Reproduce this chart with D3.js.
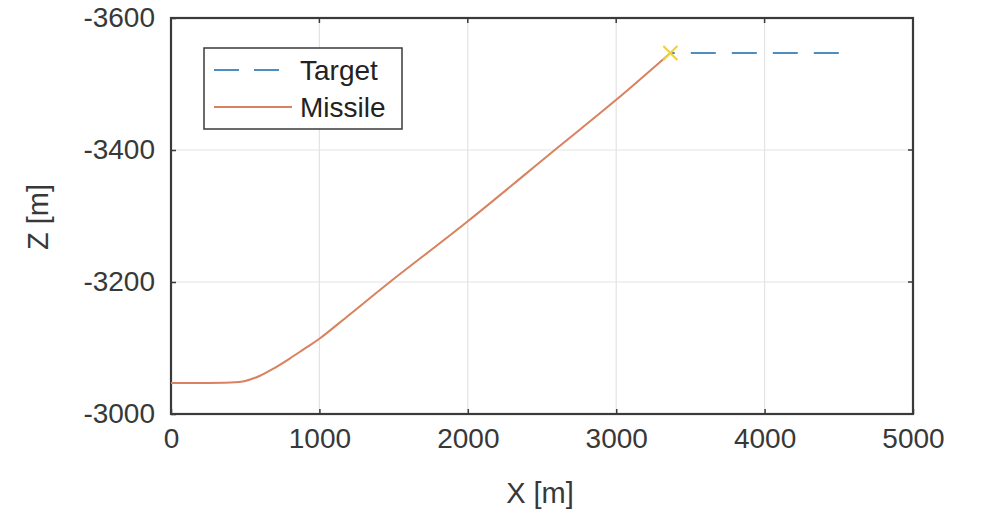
<!DOCTYPE html>
<html>
<head>
<meta charset="utf-8">
<script src="https://cdn.jsdelivr.net/npm/d3@7"></script>
<style>
html,body{margin:0;padding:0;background:#fff;}
svg{display:block;}
text{font-family:"Liberation Sans",Arial,sans-serif;}
</style>
</head>
<body>
<svg id="chart" width="998" height="516"></svg>
<script>
// Data
const missileX = [0, 200, 430, 500, 600, 700, 800, 900, 1000, 1200, 1475, 2000, 2586, 3000, 3365];
const missileZ = [-3047, -3047, -3048, -3050, -3058, -3070, -3084, -3099, -3114, -3150, -3200, -3292, -3400, -3476, -3547];
const targetX = [4500, 3365];
const targetZ = [-3547, -3547];
const interceptX = [3365];
const interceptZ = [-3547];
const xTicks = [0, 1000, 2000, 3000, 4000, 5000];
const zTicks = [-3600, -3400, -3200, -3000];
const seriesNames = ["Target", "Missile"];

const svg = d3.select("#chart");
const L = 171, T = 18, R = 913, B = 414;
const x = d3.scaleLinear().domain([0, 5000]).range([L, R]);
const y = d3.scaleLinear().domain([-3000, -3600]).range([B, T]);

const gridColor = "#e3e3e3";
const axisColor = "#3a3a3a";
const textColor = "#383838";
const missileColor = "#d8825f";
const targetColor = "#4f8cbf";
const markerColor = "#f0d23a";

// grid
svg.append("g").selectAll("line").data(xTicks.slice(1, -1)).join("line")
  .attr("x1", d => x(d)).attr("x2", d => x(d)).attr("y1", T).attr("y2", B)
  .attr("stroke", gridColor).attr("stroke-width", 1.2);
svg.append("g").selectAll("line").data(zTicks.slice(1, -1)).join("line")
  .attr("y1", d => y(d)).attr("y2", d => y(d)).attr("x1", L).attr("x2", R)
  .attr("stroke", gridColor).attr("stroke-width", 1.2);

// axes with d3
const xAxis = d3.axisBottom(x).tickValues(xTicks).tickSize(-5).tickPadding(14).tickFormat(d3.format("d"));
const gx = svg.append("g").attr("transform", `translate(0,${B})`).call(xAxis);
gx.select(".domain").remove();
gx.selectAll(".tick line").attr("stroke", axisColor).attr("stroke-width", 1.5);
gx.selectAll(".tick text").attr("fill", textColor).attr("font-size", 28)
  .attr("font-family", "'Liberation Sans', Arial, sans-serif").attr("dy", "0.71em");

const yAxis = d3.axisLeft(y).tickValues(zTicks).tickSize(-5).tickPadding(16).tickFormat(d => String(d));
const gy = svg.append("g").attr("transform", `translate(${L},0)`).call(yAxis);
gy.select(".domain").remove();
gy.selectAll(".tick line").attr("stroke", axisColor).attr("stroke-width", 1.5);
gy.selectAll(".tick text").attr("fill", textColor).attr("font-size", 28)
  .attr("font-family", "'Liberation Sans', Arial, sans-serif");

// top/right ticks
svg.append("g").selectAll("line").data(xTicks).join("line")
  .attr("x1", d => x(d)).attr("x2", d => x(d)).attr("y1", T).attr("y2", T + 5)
  .attr("stroke", axisColor).attr("stroke-width", 1.5);
svg.append("g").selectAll("line").data(zTicks).join("line")
  .attr("y1", d => y(d)).attr("y2", d => y(d)).attr("x1", R).attr("x2", R - 5)
  .attr("stroke", axisColor).attr("stroke-width", 1.5);

// frame
svg.append("rect").attr("x", L).attr("y", T).attr("width", R - L).attr("height", B - T)
  .attr("fill", "none").attr("stroke", axisColor).attr("stroke-width", 2.2);

// lines
const missile = missileX.map((v, i) => [v, missileZ[i]]);
const target = targetX.map((v, i) => [v, targetZ[i]]);
const line = d3.line().x(d => x(d[0])).y(d => y(d[1])).curve(d3.curveCatmullRom.alpha(0.5));

svg.append("path").datum(target).attr("d", d3.line().x(d => x(d[0])).y(d => y(d[1])))
  .attr("fill", "none").attr("stroke", targetColor).attr("stroke-width", 2.2)
  .attr("stroke-dasharray", "25,16");
svg.append("path").datum(missile).attr("d", line)
  .attr("fill", "none").attr("stroke", missileColor).attr("stroke-width", 2);

// intercept marker
const mk = svg.append("g");
interceptX.forEach((v, i) => {
  const cx = x(v), cy = y(interceptZ[i]), s = 7;
  mk.append("path").attr("d", `M${cx - s},${cy - s}L${cx + s},${cy + s}M${cx - s},${cy + s}L${cx + s},${cy - s}`)
    .attr("stroke", markerColor).attr("stroke-width", 2.2).attr("fill", "none");
});

// axis labels
svg.append("text").attr("x", 540).attr("y", 503).attr("text-anchor", "middle")
  .attr("font-size", 29).attr("fill", textColor).text("X [m]");
svg.append("text").attr("transform", "translate(48,217) rotate(-90)").attr("text-anchor", "middle")
  .attr("font-size", 29).attr("fill", textColor).text("Z [m]");

// legend
const lg = svg.append("g");
lg.append("rect").attr("x", 204).attr("y", 48).attr("width", 198).attr("height", 81)
  .attr("fill", "#fff").attr("stroke", axisColor).attr("stroke-width", 1.5);
const legendColors = [targetColor, missileColor];
const legendDash = ["25,15", null];
const legendEnd = [282, 292];
seriesNames.forEach((name, i) => {
  const yy = 70 + i * 37;
  lg.append("line").attr("x1", 214).attr("x2", legendEnd[i]).attr("y1", yy).attr("y2", yy)
    .attr("stroke", legendColors[i]).attr("stroke-width", 2)
    .attr("stroke-dasharray", legendDash[i]);
  lg.append("text").attr("x", 300).attr("y", yy + 10).attr("font-size", 28)
    .attr("fill", "#222").text(name);
});
</script>
</body>
</html>
